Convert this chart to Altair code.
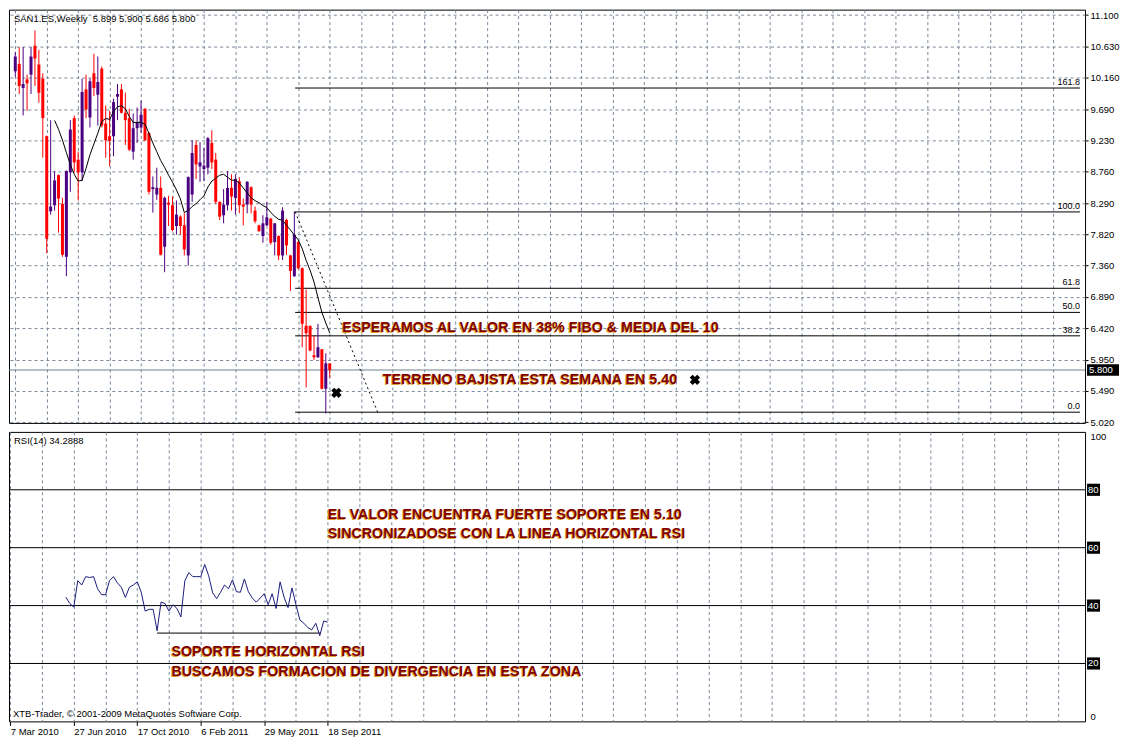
import altair as alt
import pandas as pd

# ---------------- data ----------------
IDX = list(range(81))
OPEN = [10.26, 10.37, 10.01, 10.14, 10.21, 10.64, 10.36, 10.15, 9.29, 8.17,
        8.26, 8.71, 8.28, 7.49, 8.75, 9.56, 8.94, 8.75, 9.99, 9.57,
        10.23, 9.91, 10.30, 9.48, 9.29, 9.29, 9.88, 9.99, 9.64, 9.56,
        9.06, 9.41, 9.42, 9.70, 9.34, 8.50, 8.42, 8.52, 7.64, 8.30,
        8.26, 7.95, 8.09, 7.96, 7.51, 8.42, 9.16, 8.84, 8.80, 8.82,
        9.19, 8.94, 8.31, 8.11, 8.26, 8.52, 8.37, 8.62, 8.27, 8.27,
        8.53, 8.18, 7.96, 7.80, 7.96, 8.06, 7.71, 7.80, 7.51, 8.04,
        7.51, 7.20, 7.71, 7.32, 6.46, 6.46, 6.02, 5.99, 6.11, 5.52,
        5.899]
HIGH = [10.55, 10.62, 10.62, 10.21, 10.62, 10.87, 10.58, 10.23, 9.30, 9.53,
        8.77, 8.72, 8.37, 8.78, 9.53, 9.60, 9.06, 10.15, 10.21, 10.15,
        10.52, 10.48, 10.33, 9.75, 9.67, 9.85, 10.07, 10.07, 9.94, 9.70,
        9.63, 9.72, 9.82, 9.71, 9.35, 8.69, 8.82, 8.69, 8.39, 8.40,
        8.39, 8.33, 8.11, 8.14, 8.69, 9.23, 9.23, 9.20, 9.12, 9.28,
        9.38, 9.04, 8.32, 8.50, 8.77, 8.72, 8.72, 8.68, 8.36, 8.62,
        8.54, 8.24, 7.97, 8.11, 8.31, 8.07, 7.99, 7.81, 8.23, 8.06,
        7.52, 8.17, 7.73, 7.33, 7.00, 6.46, 6.31, 6.49, 6.11, 6.05,
        5.900]
LOW = [10.18, 9.92, 9.60, 9.67, 9.92, 10.04, 9.79, 8.97, 7.54, 8.12,
       8.18, 7.85, 7.49, 7.20, 8.46, 8.75, 8.33, 8.62, 9.56, 9.42,
       9.89, 9.45, 9.42, 8.97, 8.84, 8.99, 9.53, 9.63, 9.16, 9.07,
       8.94, 9.19, 9.34, 9.22, 8.42, 8.15, 8.34, 7.51, 7.26, 7.95,
       7.87, 7.82, 7.82, 7.51, 7.36, 8.31, 8.65, 8.61, 8.62, 8.72,
       8.80, 8.28, 8.04, 7.99, 8.18, 8.18, 8.12, 8.14, 7.96, 8.14,
       8.14, 7.99, 7.87, 7.70, 7.95, 7.67, 7.51, 7.44, 7.44, 7.52,
       6.98, 7.19, 7.30, 6.14, 5.54, 6.08, 5.95, 5.98, 5.51, 5.15,
       5.686]
CLOSE = [10.48, 10.04, 10.07, 10.08, 10.48, 10.45, 9.94, 9.56, 7.76, 8.24,
         8.63, 8.36, 7.52, 8.77, 9.39, 8.90, 8.75, 9.95, 9.69, 10.11,
         10.01, 10.10, 9.45, 9.23, 9.22, 9.80, 9.92, 9.64, 9.53, 9.09,
         9.41, 9.50, 9.61, 9.23, 8.46, 8.53, 8.52, 7.52, 8.37, 8.27,
         7.89, 8.12, 7.95, 7.60, 8.68, 9.04, 8.87, 8.90, 8.85, 9.26,
         8.90, 8.31, 8.09, 8.27, 8.52, 8.39, 8.65, 8.26, 8.24, 8.61,
         8.27, 8.02, 7.87, 7.99, 8.08, 7.70, 7.99, 7.51, 8.18, 7.66,
         7.28, 7.82, 7.32, 6.49, 6.35, 6.09, 5.99, 6.14, 5.52, 5.90,
         5.800]

MA_IDX = list(range(10, 81))
MA10 = [9.526, 9.394, 9.234, 9.044, 8.868, 8.722, 8.620, 8.634, 8.810, 9.014,
        9.175, 9.336, 9.511, 9.555, 9.541, 9.658, 9.731, 9.745, 9.701, 9.585,
        9.497, 9.497, 9.497, 9.468, 9.336, 9.190, 9.058, 8.927, 8.824, 8.708,
        8.605, 8.488, 8.357, 8.152, 8.181, 8.240, 8.284, 8.342, 8.401, 8.532,
        8.620, 8.664, 8.708, 8.722, 8.678, 8.634, 8.634, 8.591, 8.518, 8.444,
        8.371, 8.328, 8.298, 8.255, 8.225, 8.152, 8.094, 8.050, 8.035, 7.962,
        7.889, 7.816, 7.743, 7.611, 7.436, 7.290, 7.114, 6.881, 6.661, 6.501,
        6.354]

RSI_IDX = list(range(14, 81))
RSI14 = [42.9, 40.7, 39.5, 48.6, 47.1, 50.0, 49.7, 50.0, 45.8, 43.8,
         43.7, 48.6, 50.0, 47.8, 46.3, 42.8, 46.3, 47.1, 48.2, 44.6,
         38.1, 38.7, 38.7, 31.3, 41.2, 40.7, 38.1, 40.3, 39.0, 36.1,
         48.6, 51.4, 50.0, 50.0, 50.0, 54.2, 50.3, 44.4, 42.4, 44.6,
         47.1, 45.8, 48.9, 44.8, 44.6, 49.2, 44.8, 42.6, 41.2, 42.6,
         44.1, 40.3, 44.1, 39.0, 48.2, 42.9, 39.3, 46.1, 40.3, 35.0,
         33.9, 32.4, 31.6, 33.9, 29.6, 34.7, 34.29]

PRICE_TICKS = [5.02, 5.49, 5.95, 6.42, 6.89, 7.36, 7.82, 8.29, 8.76, 9.23,
               9.69, 10.16, 10.63, 11.10]
DATE_IDX = [0, 16, 32, 48, 64, 80]
DATE_LABELS = ["7 Mar 2010", "27 Jun 2010", "17 Oct 2010", "6 Feb 2011",
               "29 May 2011", "18 Sep 2011"]
GRID_IDX = list(range(0, 271, 8))
X_MIN, X_MAX = -0.33, 270.9
P_MIN, P_MAX = 5.01, 11.18

FIB_LABELS = ["0.0", "38.2", "50.0", "61.8", "100.0", "161.8"]
FIB_PRICES = [5.17, 6.31, 6.66, 7.02, 8.16, 10.01]
FIB_X0 = 71.2
FIB_DIAG_X = [71.2, 92.2]
FIB_DIAG_P = [8.16, 5.17]
LAST_PRICE = 5.80
LAST_LABEL = "5.800"

PRICE_NOTES = ["ESPERAMOS AL VALOR EN 38% FIBO & MEDIA DEL 10",
               "TERRENO BAJISTA ESTA SEMANA EN 5.40"]
PRICE_NOTES_X = [83.2, 93.5]
PRICE_NOTES_Y = [6.445, 5.672]
CROSS_X = [81.7, 172.9]
CROSS_Y = [5.459, 5.653]

RSI_LEVELS = [20, 40, 60, 80]
RSI_SUPPORT_X = [37.0, 78.3]
RSI_SUPPORT_V = 30.5
RSI_NOTES = ["EL VALOR ENCUENTRA FUERTE SOPORTE EN 5.10",
             "SINCRONIZADOSE CON LA LINEA HORIZONTAL RSI",
             "SOPORTE HORIZONTAL RSI",
             "BUSCAMOS FORMACION DE DIVERGENCIA EN ESTA ZONA"]
RSI_NOTES_X = [80.0, 80.0, 40.6, 40.6]
RSI_NOTES_Y = [71.6, 64.9, 24.3, 17.5]

TITLE = "SAN1.ES,Weekly\u00a0\u00a05.899 5.900 5.686 5.800"
RSI_TITLE = "RSI(14) 34.2888"
COPYRIGHT = "XTB-Trader, \u00a9 2001-2009 MetaQuotes Software Corp."

# ---------------- styles ----------------
W, H1, H2 = 1078, 414, 290
BULL, BEAR = "#4B0082", "#FF0000"
GRID = "#7A8899"
NOTE_COLOR = "#800000"
SHADOW = "#E0A030"
FONT = "Liberation Sans"

xs = alt.Scale(domain=[X_MIN, X_MAX], nice=False, zero=False)
ys = alt.Scale(domain=[P_MIN, P_MAX], nice=False, zero=False)
rs = alt.Scale(domain=[0, 100], nice=False, zero=False)

x_axis_top = alt.Axis(values=GRID_IDX, labels=False, ticks=False, domain=False,
                      title=None, grid=True, gridDash=[3, 3], gridColor=GRID)
label_expr = " : ".join(f"datum.value == {i} ? '{l}'" for i, l in zip(DATE_IDX, DATE_LABELS)) + " : ''"
tick_test = "indexof(" + str(DATE_IDX) + ", datum.value) >= 0"
x_axis_bot = alt.Axis(values=GRID_IDX, labelExpr=label_expr, title=None, grid=True,
                      gridDash=[3, 3], gridColor=GRID, domain=False, tickSize=4,
                      tickColor="black",
                      tickOpacity={"condition": {"test": tick_test, "value": 1}, "value": 0},
                      labelAlign="left", labelBaseline="top", labelPadding=1,
                      labelFont=FONT, labelFontSize=9.5, labelColor="black",
                      labelOverlap=False)
y_axis_price = alt.Axis(orient="right", values=PRICE_TICKS, format=".3f", title=None,
                        grid=True, gridDash=[3, 3], gridColor=GRID, domain=False,
                        tickSize=3, tickColor="black", labelPadding=2, labelFont=FONT,
                        labelFontSize=9.5, labelColor="black")
y_axis_rsi = alt.Axis(orient="right", values=[0, 100], title=None, grid=False,
                      domain=False, tickSize=0, labelPadding=5, labelFlush=True,
                      labelFont=FONT, labelFontSize=9.5, labelColor="black")


def XP(f):
    return alt.X(f, type="quantitative", scale=xs, axis=x_axis_top)


def YP(f):
    return alt.Y(f, type="quantitative", scale=ys, axis=y_axis_price)


def XR(f):
    return alt.X(f, type="quantitative", scale=xs, axis=x_axis_bot)


def YR(f):
    return alt.Y(f, type="quantitative", scale=rs, axis=y_axis_rsi)


candles = pd.DataFrame({"idx": IDX, "open": OPEN, "high": HIGH, "low": LOW, "close": CLOSE})
candles["dir"] = ["up" if c >= o else "down" for o, c in zip(OPEN, CLOSE)]
color = alt.Color("dir:N", scale=alt.Scale(domain=["up", "down"], range=[BULL, BEAR]), legend=None)

ma_df = pd.DataFrame({"idx": MA_IDX, "ma": MA10})
fib_df = pd.DataFrame({"x0": [FIB_X0] * len(FIB_PRICES), "x1": [X_MAX] * len(FIB_PRICES),
                       "p": FIB_PRICES, "lab": FIB_LABELS})
diag_df = pd.DataFrame({"x": FIB_DIAG_X, "p": FIB_DIAG_P})
last_df = pd.DataFrame({"p": [LAST_PRICE], "t": [LAST_LABEL]})
pnotes = pd.DataFrame({"x": PRICE_NOTES_X, "p": PRICE_NOTES_Y, "t": PRICE_NOTES})
cross_df = pd.DataFrame({"x": CROSS_X, "p": CROSS_Y})
title_df = pd.DataFrame({"t": [TITLE]})

price_grid = alt.Chart(candles).mark_rule(opacity=0).encode(x=XP("idx"), y=YP("low"))
last_line = alt.Chart(last_df).mark_rule(color="#708090", strokeWidth=1).encode(y=YP("p"))
fib_lines = alt.Chart(fib_df).mark_rule(color="black", strokeWidth=1).encode(
    x=XP("x0"), x2="x1", y=YP("p"))
fib_text = alt.Chart(fib_df).mark_text(align="right", baseline="bottom", dy=-1, font=FONT,
                                       fontSize=9, color="black").encode(
    x=XP("x1"), y=YP("p"), text="lab:N")
diag = alt.Chart(diag_df).mark_line(color="black", strokeWidth=1, strokeDash=[2, 3]).encode(
    x=XP("x"), y=YP("p"))
wicks = alt.Chart(candles).mark_rule(strokeWidth=1).encode(
    x=XP("idx"), y=YP("low"), y2="high", color=color)
bodies = alt.Chart(candles).mark_bar(size=3).encode(
    x=XP("idx"), y=YP("open"), y2="close", color=color)
ma_line = alt.Chart(ma_df).mark_line(color="black", strokeWidth=1).encode(
    x=XP("idx"), y=YP("ma"))
pn_shadow = alt.Chart(pnotes).mark_text(align="left", baseline="middle", dx=-1, dy=2,
                                        font=FONT, fontSize=14.3, fontWeight="bold",
                                        color=SHADOW).encode(x=XP("x"), y=YP("p"), text="t:N")
pn_text = alt.Chart(pnotes).mark_text(align="left", baseline="middle", dy=1, font=FONT,
                                      fontSize=14.3, fontWeight="bold",
                                      color=NOTE_COLOR).encode(x=XP("x"), y=YP("p"), text="t:N")
crosses = alt.Chart(cross_df).mark_point(shape="cross", angle=45, filled=True, size=110,
                                         color="black", opacity=1).encode(
    x=XP("x"), y=YP("p"))
title_txt = alt.Chart(title_df).mark_text(align="left", baseline="middle", font=FONT,
                                          fontSize=9.5, color="black").encode(
    x=alt.value(5), y=alt.value(9), text="t:N")
last_box = alt.Chart(last_df).transform_calculate(
    lo="datum.p - 0.085", hi="datum.p + 0.085").mark_rect(color="black").encode(
    x=alt.value(W + 2), x2=alt.value(W + 34), y=YP("lo"), y2="hi")
last_txt = alt.Chart(last_df).mark_text(align="left", baseline="middle", font=FONT,
                                        fontSize=9.5, color="white").encode(
    x=alt.value(W + 4), y=YP("p"), text="t:N")

price = alt.layer(price_grid, last_line, fib_lines, fib_text, diag, wicks, bodies, ma_line,
                  pn_shadow, pn_text, crosses, title_txt, last_box, last_txt).properties(
    width=W, height=H1)

rsi_df = pd.DataFrame({"idx": RSI_IDX, "rsi": RSI14})
lev_df = pd.DataFrame({"v": RSI_LEVELS, "t": [str(v) for v in RSI_LEVELS]})
sup_df = pd.DataFrame({"x0": [RSI_SUPPORT_X[0]], "x1": [RSI_SUPPORT_X[1]], "v": [RSI_SUPPORT_V]})
rnotes = pd.DataFrame({"x": RSI_NOTES_X, "v": RSI_NOTES_Y, "t": RSI_NOTES})
rtitle_df = pd.DataFrame({"t": [RSI_TITLE]})
copy_df = pd.DataFrame({"t": [COPYRIGHT]})

r_grid = alt.Chart(rsi_df).mark_rule(opacity=0).encode(x=XR("idx"), y=YR("rsi"))
levels = alt.Chart(lev_df).mark_rule(color="black", strokeWidth=1).encode(y=YR("v"))
support = alt.Chart(sup_df).mark_rule(color="black", strokeWidth=1).encode(
    x=XR("x0"), x2="x1", y=YR("v"))
rsi_line = alt.Chart(rsi_df).mark_line(color="#1C1C7C", strokeWidth=1).encode(
    x=XR("idx"), y=YR("rsi"))
rn_shadow = alt.Chart(rnotes).mark_text(align="left", baseline="middle", dx=-1, dy=2,
                                        font=FONT, fontSize=14.3, fontWeight="bold",
                                        color=SHADOW).encode(x=XR("x"), y=YR("v"), text="t:N")
rn_text = alt.Chart(rnotes).mark_text(align="left", baseline="middle", dy=1, font=FONT,
                                      fontSize=14.3, fontWeight="bold",
                                      color=NOTE_COLOR).encode(x=XR("x"), y=YR("v"), text="t:N")
lev_box = alt.Chart(lev_df).transform_calculate(
    lo="datum.v - 2.1", hi="datum.v + 2.1").mark_rect(color="black").encode(
    x=alt.value(W + 2), x2=alt.value(W + 15), y=YR("lo"), y2="hi")
lev_txt = alt.Chart(lev_df).mark_text(align="left", baseline="middle", font=FONT,
                                      fontSize=9.5, color="white").encode(
    x=alt.value(W + 3), y=YR("v"), text="t:N")
rtitle = alt.Chart(rtitle_df).mark_text(align="left", baseline="middle", font=FONT,
                                        fontSize=9.5, color="black").encode(
    x=alt.value(5), y=alt.value(9), text="t:N")
copyright_txt = alt.Chart(copy_df).mark_text(align="left", baseline="middle", font=FONT,
                                             fontSize=9.5, color="black").encode(
    x=alt.value(4), y=alt.value(H2 - 7), text="t:N")

rsi = alt.layer(r_grid, levels, support, rsi_line, rn_shadow, rn_text, lev_box, lev_txt,
                rtitle, copyright_txt).properties(width=W, height=H2)

chart = alt.vconcat(price, rsi, spacing=3).properties(
    padding={"left": 0, "top": 0, "right": 0, "bottom": 0},
    background="white").configure_view(stroke="black", strokeWidth=1)

chart.save("out.html", embed_options={"renderer": "svg", "actions": False})
